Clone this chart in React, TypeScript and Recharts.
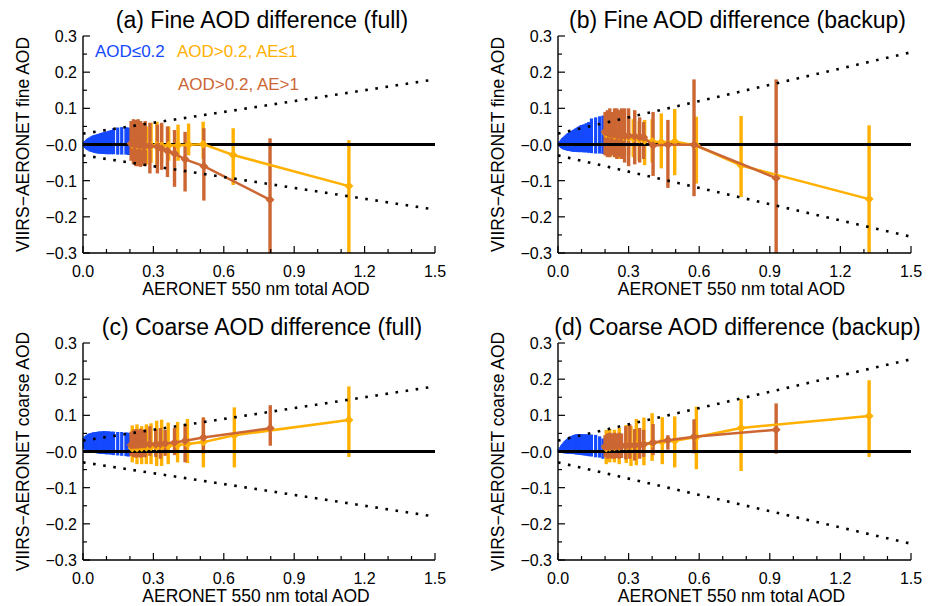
import React from 'react';
import { ComposedChart, Scatter, XAxis, YAxis, ErrorBar } from 'recharts';

const BLUE = '#1449ff';
const ORANGE = '#ffb000';
const BROWN = '#cc6633';
const FONT = "'Liberation Sans', Arial, Helvetica, sans-serif";

// axis ticks
const xTicks = [0, 0.1, 0.2, 0.3, 0.4, 0.5, 0.6, 0.7, 0.8, 0.9, 1.0, 1.1, 1.2, 1.3, 1.4, 1.5];
const xLabelTicks = [0, 0.3, 0.6, 0.9, 1.2, 1.5];
const yTicks = [-0.3, -0.25, -0.2, -0.15, -0.1, -0.05, 0, 0.05, 0.1, 0.15, 0.2, 0.25, 0.3];
const yLabelTicks = [-0.3, -0.2, -0.1, 0, 0.1, 0.2, 0.3];
const yTickLabels = ['\u22120.3', '\u22120.2', '\u22120.1', '\u22120.0', '0.1', '0.2', '0.3'];

// reference lines [x, y]
const zeroLine = [[0, 0], [1.5, 0]];
const envFullUpper = [[0, 0.03], [1.5, 0.18]];
const envFullLower = [[0, -0.03], [1.5, -0.18]];
const envBackupUpper = [[0, 0.03], [1.5, 0.255]];
const envBackupLower = [[0, -0.03], [1.5, -0.255]];

// AOD<=0.2 bins: [x, low, high]
const fineFullBlue = [
  [0.005, -0.006, 0.006], [0.01, -0.01, 0.01], [0.015, -0.013, 0.013], [0.02, -0.015, 0.016], [0.025, -0.017, 0.018],
  [0.03, -0.019, 0.02], [0.035, -0.02, 0.022], [0.04, -0.021, 0.024], [0.045, -0.022, 0.025], [0.05, -0.023, 0.026],
  [0.055, -0.024, 0.027], [0.06, -0.024, 0.028], [0.065, -0.025, 0.029], [0.07, -0.025, 0.03], [0.075, -0.025, 0.031],
  [0.08, -0.026, 0.032], [0.085, -0.026, 0.033], [0.09, -0.026, 0.034], [0.095, -0.026, 0.035], [0.1, -0.027, 0.036],
  [0.11, -0.027, 0.038], [0.12, -0.027, 0.04], [0.13, -0.027, 0.045], [0.148, -0.028, 0.047], [0.165, -0.028, 0.048],
  [0.183, -0.028, 0.048], [0.194, -0.029, 0.047],
];
const fineBackupBlue = [
  [0.005, -0.004, 0.006], [0.01, -0.007, 0.01], [0.015, -0.01, 0.014], [0.02, -0.012, 0.018], [0.025, -0.014, 0.021],
  [0.03, -0.015, 0.024], [0.035, -0.016, 0.027], [0.04, -0.017, 0.03], [0.045, -0.018, 0.032], [0.05, -0.018, 0.034],
  [0.055, -0.019, 0.036], [0.06, -0.019, 0.038], [0.065, -0.02, 0.04], [0.07, -0.02, 0.042], [0.075, -0.02, 0.044],
  [0.08, -0.02, 0.046], [0.085, -0.021, 0.048], [0.09, -0.021, 0.05], [0.095, -0.021, 0.052], [0.1, -0.021, 0.054],
  [0.11, -0.022, 0.056], [0.12, -0.022, 0.059], [0.13, -0.023, 0.062], [0.142, -0.024, 0.072], [0.16, -0.025, 0.075],
  [0.177, -0.025, 0.078], [0.191, -0.026, 0.08],
];
const coarseFullBlue = [
  [0.005, 0.008, 0.038], [0.01, 0.005, 0.042], [0.015, 0.003, 0.045], [0.02, 0.001, 0.047], [0.025, 0.0, 0.049],
  [0.03, -0.001, 0.05], [0.035, -0.002, 0.051], [0.04, -0.003, 0.052], [0.045, -0.003, 0.053], [0.05, -0.004, 0.053],
  [0.055, -0.004, 0.054], [0.06, -0.005, 0.054], [0.065, -0.005, 0.055], [0.07, -0.006, 0.055], [0.075, -0.006, 0.055],
  [0.08, -0.006, 0.055], [0.085, -0.007, 0.056], [0.09, -0.007, 0.056], [0.095, -0.007, 0.056], [0.1, -0.008, 0.056],
  [0.11, -0.008, 0.056], [0.12, -0.009, 0.055], [0.13, -0.01, 0.055], [0.148, -0.011, 0.054], [0.165, -0.012, 0.054],
  [0.183, -0.013, 0.053], [0.194, -0.014, 0.052],
];
const coarseBackupBlue = [
  [0.005, -0.002, 0.006], [0.01, -0.003, 0.012], [0.015, -0.004, 0.017], [0.02, -0.004, 0.021], [0.025, -0.005, 0.025],
  [0.03, -0.005, 0.029], [0.035, -0.005, 0.032], [0.04, -0.006, 0.035], [0.045, -0.006, 0.038], [0.05, -0.006, 0.04],
  [0.055, -0.006, 0.042], [0.06, -0.007, 0.043], [0.065, -0.007, 0.045], [0.07, -0.007, 0.046], [0.075, -0.008, 0.047],
  [0.08, -0.008, 0.047], [0.085, -0.008, 0.048], [0.09, -0.009, 0.048], [0.095, -0.009, 0.048], [0.1, -0.01, 0.048],
  [0.11, -0.011, 0.048], [0.12, -0.012, 0.048], [0.13, -0.013, 0.047], [0.142, -0.014, 0.047], [0.16, -0.016, 0.046],
  [0.177, -0.017, 0.042], [0.191, -0.02, 0.036],
];

// AOD>0.2, AE<=1 : [x, mean, low, high]
const fineFullOrange = [
  [0.21, 0.0, -0.04, 0.045], [0.23, -0.002, -0.05, 0.06], [0.25, -0.003, -0.055, 0.055], [0.27, -0.004, -0.055, 0.05],
  [0.29, -0.004, -0.05, 0.06], [0.315, -0.003, -0.06, 0.063], [0.335, -0.004, -0.05, 0.055], [0.365, -0.003, -0.045, 0.05],
  [0.405, -0.002, -0.045, 0.055], [0.45, -0.001, -0.03, 0.058], [0.512, 0.001, -0.04, 0.063], [0.64, -0.029, -0.112, 0.045],
  [1.133, -0.115, -0.3, 0.012],
];
const fineBackupOrange = [
  [0.205, 0.03, -0.03, 0.06], [0.22, 0.028, -0.035, 0.07], [0.24, 0.025, -0.035, 0.065], [0.26, 0.025, -0.04, 0.075],
  [0.28, 0.022, -0.035, 0.07], [0.3, 0.02, -0.03, 0.075], [0.32, 0.018, -0.035, 0.07], [0.345, 0.015, -0.045, 0.065],
  [0.368, 0.012, -0.057, 0.068], [0.4, 0.008, -0.05, 0.07], [0.439, 0.006, -0.066, 0.086], [0.496, 0.008, -0.085, 0.098],
  [0.588, -0.003, -0.108, 0.077], [0.778, -0.058, -0.145, 0.079], [1.322, -0.151, -0.3, 0.053],
];
const coarseFullOrange = [
  [0.21, 0.01, -0.03, 0.072], [0.23, 0.01, -0.035, 0.075], [0.25, 0.011, -0.035, 0.07], [0.27, 0.012, -0.035, 0.075],
  [0.29, 0.013, -0.035, 0.078], [0.314, 0.014, -0.04, 0.085], [0.335, 0.015, -0.04, 0.088], [0.363, 0.016, -0.035, 0.08],
  [0.403, 0.018, -0.03, 0.082], [0.445, 0.021, -0.032, 0.09], [0.513, 0.026, -0.044, 0.094], [0.645, 0.045, -0.044, 0.122],
  [1.133, 0.087, -0.015, 0.18],
];
const coarseBackupOrange = [
  [0.205, 0.01, -0.035, 0.06], [0.22, 0.012, -0.03, 0.062], [0.24, 0.013, -0.03, 0.06], [0.26, 0.014, -0.035, 0.065],
  [0.29, 0.015, -0.032, 0.073], [0.31, 0.016, -0.04, 0.07], [0.333, 0.018, -0.038, 0.09], [0.365, 0.02, -0.038, 0.094],
  [0.4, 0.023, -0.026, 0.106], [0.443, 0.027, -0.035, 0.095], [0.496, 0.03, -0.044, 0.097], [0.588, 0.04, -0.049, 0.124],
  [0.778, 0.065, -0.054, 0.145], [1.322, 0.098, -0.015, 0.197],
];

// AOD>0.2, AE>1 : [x, mean, low, high]
const fineFullBrown = [
  [0.205, 0.003, -0.045, 0.065], [0.215, 0.002, -0.055, 0.07], [0.225, 0.0, -0.06, 0.068], [0.235, 0.0, -0.06, 0.07],
  [0.245, 0.0, -0.062, 0.065], [0.255, -0.002, -0.058, 0.06], [0.265, -0.003, -0.06, 0.065], [0.285, -0.004, -0.08, 0.06],
  [0.317, -0.006, -0.08, 0.055], [0.335, -0.012, -0.07, 0.06], [0.36, -0.018, -0.09, 0.05], [0.39, -0.025, -0.117, 0.04],
  [0.435, -0.041, -0.13, 0.035], [0.515, -0.06, -0.155, 0.045], [0.797, -0.153, -0.3, 0.017],
];
const fineBackupBrown = [
  [0.2, 0.035, -0.03, 0.09], [0.21, 0.033, -0.035, 0.095], [0.22, 0.03, -0.035, 0.1], [0.23, 0.03, -0.03, 0.09],
  [0.24, 0.028, -0.035, 0.1], [0.25, 0.027, -0.04, 0.1], [0.26, 0.026, -0.035, 0.095], [0.27, 0.025, -0.04, 0.1],
  [0.283, 0.024, -0.05, 0.1], [0.3, 0.024, -0.06, 0.1], [0.326, 0.023, -0.055, 0.095], [0.347, 0.021, -0.05, 0.075],
  [0.364, 0.02, -0.04, 0.062], [0.404, -0.003, -0.087, 0.09], [0.467, -0.001, -0.12, 0.068], [0.578, -0.001, -0.143, 0.18],
  [0.927, -0.093, -0.3, 0.18],
];
const coarseFullBrown = [
  [0.205, 0.018, -0.012, 0.055], [0.215, 0.018, -0.015, 0.06], [0.225, 0.019, -0.017, 0.062], [0.235, 0.019, -0.015, 0.06],
  [0.245, 0.02, -0.017, 0.063], [0.255, 0.02, -0.015, 0.06], [0.265, 0.02, -0.016, 0.062], [0.285, 0.02, -0.012, 0.07],
  [0.31, 0.02, -0.015, 0.062], [0.33, 0.021, -0.02, 0.065], [0.35, 0.022, -0.012, 0.06], [0.39, 0.025, -0.01, 0.065],
  [0.435, 0.03, -0.03, 0.076], [0.513, 0.039, -0.005, 0.094], [0.798, 0.064, 0.016, 0.128],
];
const coarseBackupBrown = [
  [0.2, 0.014, -0.015, 0.045], [0.21, 0.014, -0.02, 0.05], [0.22, 0.014, -0.018, 0.052], [0.23, 0.015, -0.02, 0.05],
  [0.24, 0.015, -0.02, 0.052], [0.25, 0.015, -0.018, 0.05], [0.26, 0.016, -0.02, 0.052], [0.27, 0.016, -0.018, 0.05],
  [0.288, 0.016, -0.022, 0.07], [0.305, 0.017, -0.02, 0.075], [0.326, 0.017, -0.025, 0.062], [0.347, 0.018, -0.02, 0.065],
  [0.364, 0.02, -0.015, 0.06], [0.404, 0.025, -0.01, 0.076], [0.467, 0.031, 0.005, 0.045], [0.578, 0.041, -0.005, 0.089],
  [0.927, 0.06, -0.006, 0.133],
];

const toBars = (rows: number[][]) =>
  rows.map(([x, lo, hi]) => ({ x, y: (lo + hi) / 2, err: [(hi - lo) / 2, (hi - lo) / 2] }));
const toSeries = (rows: number[][]) =>
  rows.map(([x, y, lo, hi]) => ({ x, y, err: [y - lo, hi - y] }));
const toLine = (rows: number[][]) => rows.map(([x, y]) => ({ x, y }));

const near = (a: number, b: number) => Math.abs(a - b) < 1e-6;
const isMajorX = (v: number) => xLabelTicks.some((t) => near(t, v));
const yLabelIndex = (v: number) => yLabelTicks.findIndex((t) => near(t, v));

const textStyle = { fontFamily: FONT, fontSize: 16, fill: '#000' };

function BottomTick(props: any) {
  const { x, y, payload } = props;
  const major = isMajorX(payload.value);
  return (
    <g>
      <line x1={x} x2={x} y1={y} y2={y - (major ? 7 : 4)} stroke="#000" strokeWidth={1.2} />
      {major && (
        <text x={x} y={y + 24} textAnchor="middle" style={textStyle}>
          {payload.value.toFixed(1)}
        </text>
      )}
    </g>
  );
}

function TopTick(props: any) {
  const { x, y, payload } = props;
  const major = isMajorX(payload.value);
  return <line x1={x} x2={x} y1={y} y2={y + (major ? 7 : 4)} stroke="#000" strokeWidth={1.2} />;
}

function LeftTick(props: any) {
  const { x, y, payload } = props;
  const i = yLabelIndex(payload.value);
  return (
    <g>
      <line x1={x} x2={x + (i >= 0 ? 7 : 4)} y1={y} y2={y} stroke="#000" strokeWidth={1.2} />
      {i >= 0 && (
        <text x={x - 6} y={y + 6} textAnchor="end" style={textStyle}>
          {yTickLabels[i]}
        </text>
      )}
    </g>
  );
}

function RightTick(props: any) {
  const { x, y, payload } = props;
  const i = yLabelIndex(payload.value);
  return <line x1={x} x2={x - (i >= 0 ? 7 : 4)} y1={y} y2={y} stroke="#000" strokeWidth={1.2} />;
}

const noShape = () => <g />;
const diamond = (color: string) => (p: any) => (
  <polygon
    points={`${p.cx},${p.cy - 4.5} ${p.cx + 4.5},${p.cy} ${p.cx},${p.cy + 4.5} ${p.cx - 4.5},${p.cy}`}
    fill={color}
  />
);

interface PanelProps {
  left: number;
  top: number;
  plotW: number;
  blue: number[][];
  orange: number[][];
  brown: number[][];
  upper: number[][];
  lower: number[][];
}

function Panel({ left, top, plotW, blue, orange, brown, upper, lower }: PanelProps) {
  const axisLine = { stroke: '#000', strokeWidth: 1.4 };
  const dotted = { stroke: '#000', strokeWidth: 2.6, strokeDasharray: '2.6 7.6' };
  return (
    <div style={{ position: 'absolute', left, top }}>
      <ComposedChart width={83 + plotW + 20} height={303} margin={{ top: 36, right: 20, bottom: 10, left: 0 }}>
        <XAxis xAxisId="x" dataKey="x" type="number" domain={[0, 1.5]} ticks={xTicks} interval={0}
          allowDataOverflow tickLine={false} tickSize={0} tickMargin={0} axisLine={axisLine}
          tick={<BottomTick />} height={40} />
        <XAxis xAxisId="xt" orientation="top" dataKey="x" type="number" domain={[0, 1.5]} ticks={xTicks}
          interval={0} allowDataOverflow tickLine={false} tickSize={0} tickMargin={0} axisLine={axisLine}
          tick={<TopTick />} height={0} />
        <YAxis yAxisId="y" type="number" domain={[-0.3, 0.3]} ticks={yTicks} interval={0} allowDataOverflow
          tickLine={false} tickSize={0} tickMargin={0} axisLine={axisLine} tick={<LeftTick />} width={83} />
        <YAxis yAxisId="yr" orientation="right" type="number" domain={[-0.3, 0.3]} ticks={yTicks} interval={0}
          allowDataOverflow tickLine={false} tickSize={0} tickMargin={0} axisLine={axisLine}
          tick={<RightTick />} width={0} />

        <Scatter xAxisId="x" yAxisId="y" data={toLine(zeroLine)} dataKey="y" shape={noShape}
          line={{ stroke: '#000', strokeWidth: 3.2 }} isAnimationActive={false} />

        <Scatter xAxisId="x" yAxisId="y" data={toBars(blue)} dataKey="y" shape={noShape} isAnimationActive={false}>
          <ErrorBar dataKey="err" direction="y" width={0} stroke={BLUE} strokeWidth={3.2} isAnimationActive={false} />
        </Scatter>

        <Scatter xAxisId="x" yAxisId="y" data={toSeries(orange)} dataKey="y" shape={diamond(ORANGE)}
          line={{ stroke: ORANGE, strokeWidth: 2.5 }} isAnimationActive={false}>
          <ErrorBar dataKey="err" direction="y" width={0} stroke={ORANGE} strokeWidth={3.4} isAnimationActive={false} />
        </Scatter>

        <Scatter xAxisId="x" yAxisId="y" data={toSeries(brown)} dataKey="y" shape={diamond(BROWN)}
          line={{ stroke: BROWN, strokeWidth: 2.5 }} isAnimationActive={false}>
          <ErrorBar dataKey="err" direction="y" width={0} stroke={BROWN} strokeWidth={3.4} isAnimationActive={false} />
        </Scatter>

        <Scatter xAxisId="x" yAxisId="y" data={toLine(upper)} dataKey="y" shape={noShape} line={dotted}
          isAnimationActive={false} />
        <Scatter xAxisId="x" yAxisId="y" data={toLine(lower)} dataKey="y" shape={noShape} line={dotted}
          isAnimationActive={false} />
      </ComposedChart>
    </div>
  );
}

const titles = [
  { text: '(a) Fine AOD difference (full)', x: 262, y: 27.5 },
  { text: '(b) Fine AOD difference (backup)', x: 737.5, y: 27.5 },
  { text: '(c) Coarse AOD difference (full)', x: 262, y: 334.5 },
  { text: '(d) Coarse AOD difference (backup)', x: 737.5, y: 334.5 },
];
const yTitles = [
  { text: 'VIIRS\u2212AERONET fine AOD', x: 29, y: 144.5 },
  { text: 'VIIRS\u2212AERONET fine AOD', x: 504, y: 144.5 },
  { text: 'VIIRS\u2212AERONET coarse AOD', x: 29, y: 451.5 },
  { text: 'VIIRS\u2212AERONET coarse AOD', x: 504, y: 451.5 },
];
const xTitles = [
  { x: 256, y: 294.5 },
  { x: 731.5, y: 294.5 },
  { x: 256, y: 601.5 },
  { x: 731.5, y: 601.5 },
];

export default function App() {
  return (
    <div style={{ position: 'absolute', left: 0, top: 0, width: 934, height: 606, background: '#fff', overflow: 'hidden' }}>
      <Panel left={0} top={0} plotW={352} blue={fineFullBlue} orange={fineFullOrange} brown={fineFullBrown}
        upper={envFullUpper} lower={envFullLower} />
      <Panel left={475} top={0} plotW={353} blue={fineBackupBlue} orange={fineBackupOrange} brown={fineBackupBrown}
        upper={envBackupUpper} lower={envBackupLower} />
      <Panel left={0} top={307} plotW={352} blue={coarseFullBlue} orange={coarseFullOrange} brown={coarseFullBrown}
        upper={envFullUpper} lower={envFullLower} />
      <Panel left={475} top={307} plotW={353} blue={coarseBackupBlue} orange={coarseBackupOrange}
        brown={coarseBackupBrown} upper={envBackupUpper} lower={envBackupLower} />

      <svg width={934} height={606} style={{ position: 'absolute', left: 0, top: 0, pointerEvents: 'none' }}>
        {titles.map((t) => (
          <text key={t.text} x={t.x} y={t.y} textAnchor="middle" style={{ fontFamily: FONT, fontSize: 23, fill: '#000' }}>
            {t.text}
          </text>
        ))}
        {yTitles.map((t, i) => (
          <text key={i} x={t.x} y={t.y} transform={`rotate(-90 ${t.x} ${t.y})`} textAnchor="middle"
            style={{ fontFamily: FONT, fontSize: 17.5, fill: '#000' }}>
            {t.text}
          </text>
        ))}
        {xTitles.map((t, i) => (
          <text key={i} x={t.x} y={t.y} textAnchor="middle" style={{ fontFamily: FONT, fontSize: 17.5, fill: '#000' }}>
            AERONET 550 nm total AOD
          </text>
        ))}
        <g style={{ fontFamily: FONT, fontSize: 17 }}>
          <text x={95} y={57} fill={BLUE}>{'AOD\u22640.2'}</text>
          <text x={177} y={57} fill={ORANGE}>{'AOD>0.2, AE\u22641'}</text>
          <text x={178} y={90} fill={BROWN}>{'AOD>0.2, AE>1'}</text>
        </g>
      </svg>
    </div>
  );
}
